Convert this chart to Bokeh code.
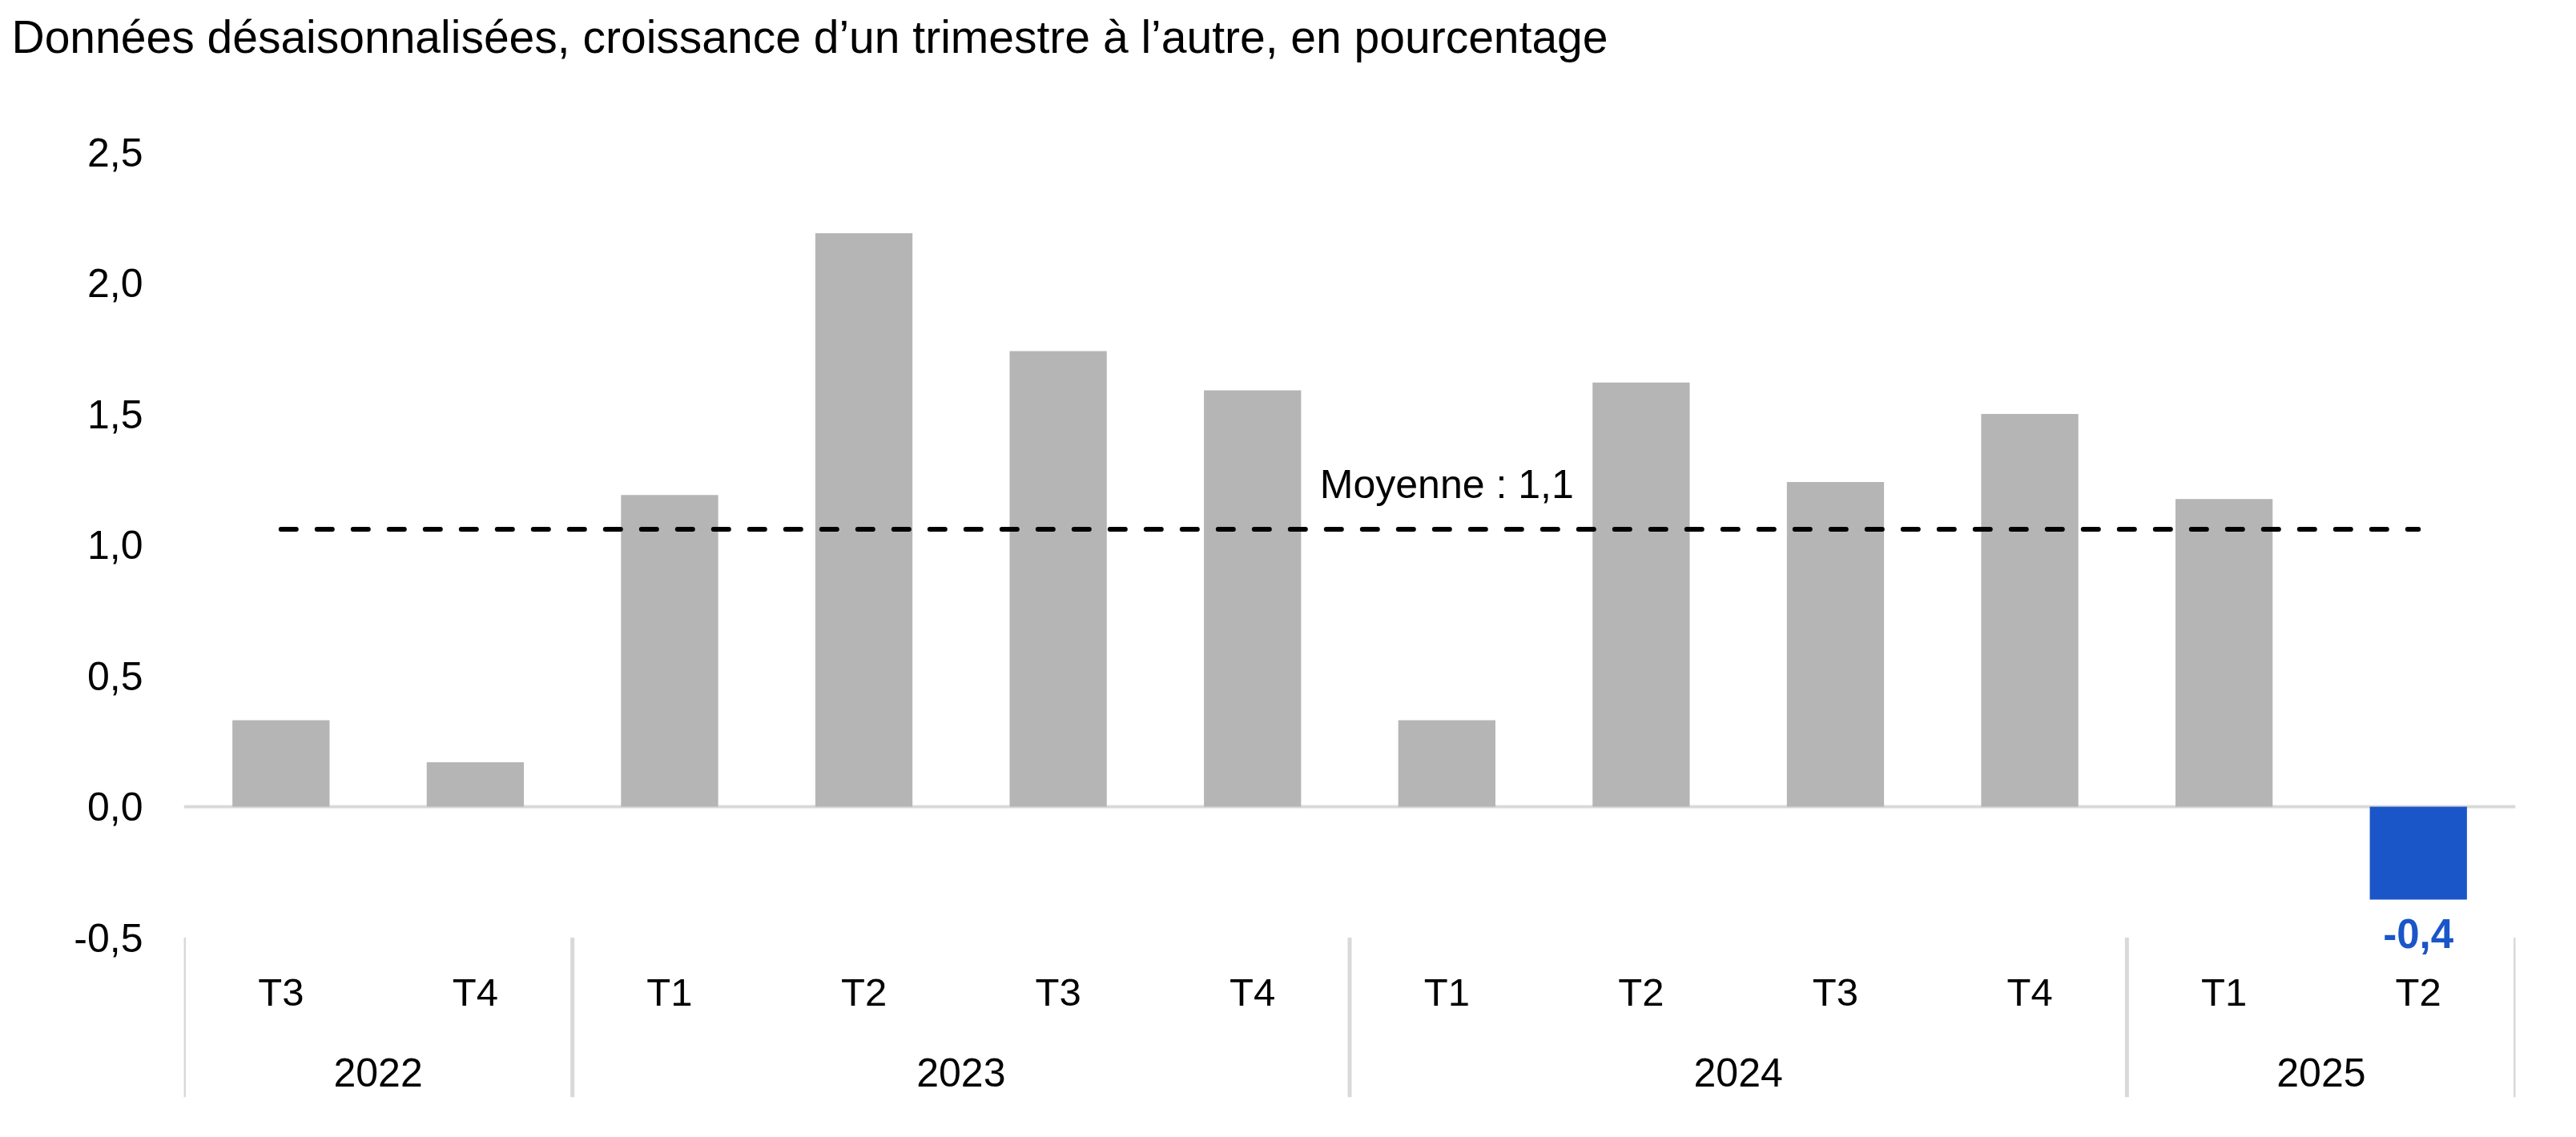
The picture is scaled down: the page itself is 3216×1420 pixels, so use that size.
from bokeh.plotting import figure
from bokeh.models import (ColumnDataSource, FactorRange, Range1d, Span, FixedTicker,
                          CustomJSTickFormatter)
from bokeh.core.properties import value
from bokeh.embed import file_html
from bokeh.resources import INLINE

# ---------------- data ----------------
TITLE = "Données désaisonnalisées, croissance d’un trimestre à l’autre, en pourcentage"
YEARS = ["2022", "2022", "2023", "2023", "2023", "2023",
         "2024", "2024", "2024", "2024", "2025", "2025"]
QUARTERS = ["T3", "T4", "T1", "T2", "T3", "T4",
            "T1", "T2", "T3", "T4", "T1", "T2"]
GROWTH = [0.33, 0.17, 1.19, 2.19, 1.74, 1.59,
          0.33, 1.62, 1.24, 1.50, 1.175, -0.355]
Y_TICKS = [-0.5, 0.0, 0.5, 1.0, 1.5, 2.0, 2.5]
MEAN_PREFIX = "Moyenne : "

# ---------------- styles / layout ----------------
FONT = "Liberation Sans"
GREY = "#b5b5b5"
BLUE = "#1a56c8"
SEP = "#d9d9d9"
W, H = 3216, 1420
FRAME_L, FRAME_R, FRAME_T, FRAME_B = 229, 3140, 85, 1370
ZERO_PX, PX_PER_UNIT = 1007, 327.0


def fr(v):
    return f"{v:.1f}".replace(".", ",")


factors = list(zip(YEARS, QUARTERS))
groups = list(dict.fromkeys(YEARS))
mean = sum(GROWTH) / len(GROWTH)

x_range = FactorRange(factors=factors, range_padding=0, group_padding=0,
                      factor_padding=0, subgroup_padding=0)
y_range = Range1d((ZERO_PX - FRAME_B) / PX_PER_UNIT, (ZERO_PX - FRAME_T) / PX_PER_UNIT)

p = figure(width=W, height=H, x_range=x_range, y_range=y_range,
           output_backend="svg", toolbar_location=None, x_axis_location=None,
           min_border_left=FRAME_L, min_border_right=W - FRAME_R,
           min_border_top=FRAME_T, min_border_bottom=H - FRAME_B,
           title=TITLE)
p.outline_line_color = None
p.grid.visible = False
p.background_fill_color = "white"
p.border_fill_color = "white"

p.title.text_font = FONT
p.title.text_font_size = "57px"
p.title.text_font_style = "normal"
p.title.text_color = "black"
p.title.align = "left"
p.title.offset = 14 - FRAME_L
p.title.standoff = 15

ya = p.yaxis[0]
ya.ticker = FixedTicker(ticks=Y_TICKS)
ya.formatter = CustomJSTickFormatter(code="return tick.toFixed(1).replace('.', ',')")
ya.axis_line_color = None
ya.major_tick_line_color = None
ya.minor_tick_line_color = None
ya.major_tick_out = 0
ya.major_tick_in = 0
ya.major_label_standoff = 51
ya.major_label_text_font = FONT
ya.major_label_text_font_size = "50px"
ya.major_label_text_color = "black"

# zero line
p.add_layout(Span(location=0, dimension="width", line_color=SEP, line_width=4,
                  level="underlay"))

# bars
colors = [BLUE if v < 0 else GREY for v in GROWTH]
src = ColumnDataSource(dict(x=factors, top=GROWTH, color=colors))
p.vbar(x="x", top="top", width=0.5, source=src, fill_color="color", line_color=None)

# mean line
p.segment(x0=[factors[0]], y0=[mean], x1=[factors[-1]], y1=[mean],
          line_color="black", line_width=6, line_dash="19 26", line_cap="round")
p.text(x=[factors[len(factors) // 2]], y=[mean], text=[MEAN_PREFIX + fr(mean)],
       text_align="center", text_baseline="alphabetic", y_offset=-56,
       text_font=value(FONT), text_font_size="50px", text_color="black")

# negative value labels
neg = [(f, v) for f, v in zip(factors, GROWTH) if v < 0]
p.text(x=[f for f, _ in neg], y=[v for _, v in neg], text=[fr(v) for _, v in neg],
       text_align="center", text_baseline="alphabetic", y_offset=42,
       text_font=value(FONT), text_font_size="51px", text_font_style="bold",
       text_color=BLUE)

# category axis drawn below the -0.5 level
base = Y_TICKS[0]
p.text(x=factors, y=[base] * len(factors), text=QUARTERS,
       text_align="center", text_baseline="alphabetic", y_offset=67.5,
       text_font=value(FONT), text_font_size="49px", text_color="black")
p.text(x=groups, y=[base] * len(groups), text=groups,
       text_align="center", text_baseline="alphabetic", y_offset=168.5,
       text_font=value(FONT), text_font_size="50px", text_color="black")

sep_x = [(g, [q for y, q in factors if y == g][0], -0.5) for g in groups]
sep_x.append((factors[-1][0], factors[-1][1], 0.5))
p.segment(x0=sep_x, y0=[base] * len(sep_x), x1=sep_x, y1=[y_range.start] * len(sep_x),
          line_color=SEP, line_width=5)

open("out.html", "w").write(file_html(p, INLINE))
